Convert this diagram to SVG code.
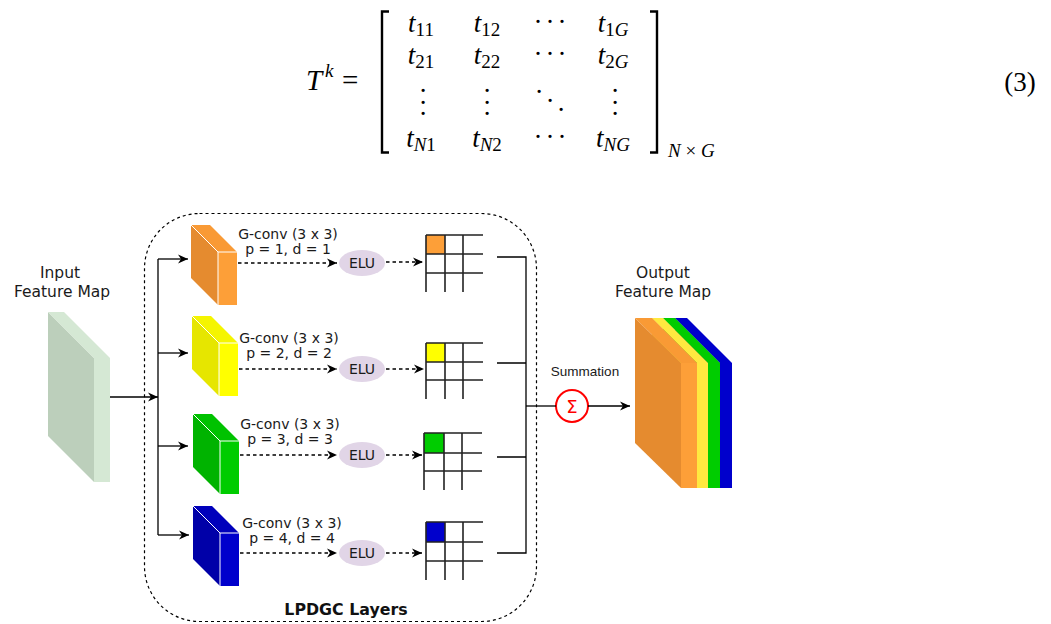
<svg xmlns="http://www.w3.org/2000/svg" width="1051" height="624" viewBox="0 0 1051 624">
<style>
.eq{font-family:'Liberation Serif',serif;font-size:27px;fill:#000}
.it{font-style:italic}
.sub{font-size:19px}
.lbl{font-family:'DejaVu Sans',sans-serif;font-size:14px;fill:#1a1a1a;text-anchor:middle}
.big{font-family:'DejaVu Sans',sans-serif;font-size:15.5px;fill:#1a1a1a;text-anchor:middle}
.ln{stroke:#000;stroke-width:1.3;fill:none}
.dash{stroke:#000;stroke-width:1.3;fill:none;stroke-dasharray:3.5 3}
.grid{stroke:#222;stroke-width:1.6;fill:none}
.ell{fill:#e1d5e7}
.edge{stroke:#fff;stroke-width:1;fill:none}
</style>
<defs>
<marker id="arr" markerUnits="userSpaceOnUse" markerWidth="12" markerHeight="10" refX="10" refY="5" orient="auto">
<path d="M0,0.5 L10,5 L0,9.5 L3,5 Z" fill="#000"/>
</marker>
</defs>

<g id="equation" class="eq">
<text x="306" y="90" class="it" font-size="29">T</text>
<text x="325" y="77" class="it sub">k</text>
<text x="342" y="90" font-size="29">=</text>
<path d="M389,11.5 H382 V152.5 H389" stroke="#000" stroke-width="2.4" fill="none"/>
<path d="M650,11.5 H657 V152.5 H650" stroke="#000" stroke-width="2.4" fill="none"/>
<text x="421" y="32" text-anchor="middle"><tspan class="it">t</tspan><tspan class="sub" dy="4">11</tspan></text>
<text x="487" y="32" text-anchor="middle"><tspan class="it">t</tspan><tspan class="sub" dy="4">12</tspan></text>
<text x="538 550 562" y="31" text-anchor="middle">···</text>
<text x="613" y="32" text-anchor="middle"><tspan class="it">t</tspan><tspan class="sub" dy="4">1<tspan class="it">G</tspan></tspan></text>
<text x="421" y="64" text-anchor="middle"><tspan class="it">t</tspan><tspan class="sub" dy="4">21</tspan></text>
<text x="487" y="64" text-anchor="middle"><tspan class="it">t</tspan><tspan class="sub" dy="4">22</tspan></text>
<text x="538 550 562" y="63" text-anchor="middle">···</text>
<text x="613" y="64" text-anchor="middle"><tspan class="it">t</tspan><tspan class="sub" dy="4">2<tspan class="it">G</tspan></tspan></text>
<text x="423 423 423" y="92 103.5 115" text-anchor="middle">...</text>
<text x="487 487 487" y="92 103.5 115" text-anchor="middle">...</text>
<text x="539 550 561" y="93 102 111" text-anchor="middle">...</text>
<text x="615 615 615" y="92 103.5 115" text-anchor="middle">...</text>
<text x="421" y="147" text-anchor="middle"><tspan class="it">t</tspan><tspan class="sub" dy="4"><tspan class="it">N</tspan>1</tspan></text>
<text x="487" y="147" text-anchor="middle"><tspan class="it">t</tspan><tspan class="sub" dy="4"><tspan class="it">N</tspan>2</tspan></text>
<text x="538 550 562" y="146" text-anchor="middle">···</text>
<text x="613" y="147" text-anchor="middle"><tspan class="it">t</tspan><tspan class="sub" dy="4"><tspan class="it">NG</tspan></tspan></text>
<text x="668" y="157" class="sub" font-size="20"><tspan class="it">N</tspan> × <tspan class="it">G</tspan></text>
<text x="1020" y="91" text-anchor="middle">(3)</text>
</g>

<g id="lpdgc-box">
<rect x="144.5" y="213.5" width="392" height="408" rx="55" ry="55" fill="none" stroke="#000" stroke-width="1.2" stroke-dasharray="3 3"/>
<text x="346" y="615" font-family="'DejaVu Sans',sans-serif" font-size="15.8" font-weight="bold" text-anchor="middle" fill="#111">LPDGC Layers</text>
</g>

<g id="input-feature-map">
<polygon points="48,312 94,358 94,482 48,436" fill="#bccfbb"/>
<polygon points="48,312 64,312 110,358 94,358" fill="#d5e8d4"/>
<rect x="94" y="358" width="16" height="124" fill="#d5e8d4"/>
<text class="big" x="60" y="278">Input</text>
<text class="big" x="62" y="297">Feature Map</text>
</g>

<g id="cube-orange">
<polygon points="191,225 218,252 218,305 191,278" fill="#e58b2f"/>
<polygon points="191,225 210,225 237,252 218,252" fill="#f99a35"/>
<rect x="218" y="252" width="19" height="53" fill="#fd9f38"/>
<path class="edge" d="M191,225 L218,252 L237,252 M218,252 V305"/>
<text class="lbl" x="288" y="239">G-conv (3 x 3)</text>
<text class="lbl" x="288" y="254">p = 1, d = 1</text>
</g>
<g id="cube-yellow">
<polygon points="192,316 219,343 219,396 192,369" fill="#e6e600"/>
<polygon points="192,316 211,316 238,343 219,343" fill="#f5f500"/>
<rect x="219" y="343" width="19" height="53" fill="#ffff00"/>
<path class="edge" d="M192,316 L219,343 L238,343 M219,343 V396"/>
<text class="lbl" x="289" y="343">G-conv (3 x 3)</text>
<text class="lbl" x="289" y="358">p = 2, d = 2</text>
</g>
<g id="cube-green">
<polygon points="193,414 220,441 220,494 193,467" fill="#00b300"/>
<polygon points="193,414 212,414 239,441 220,441" fill="#00c200"/>
<rect x="220" y="441" width="19" height="53" fill="#00cc00"/>
<path class="edge" d="M193,414 L220,441 L239,441 M220,441 V494"/>
<text class="lbl" x="290" y="429">G-conv (3 x 3)</text>
<text class="lbl" x="290" y="444">p = 3, d = 3</text>
</g>
<g id="cube-blue">
<polygon points="193,506 220,533 220,586 193,559" fill="#0000a8"/>
<polygon points="193,506 212,506 239,533 220,533" fill="#0000bb"/>
<rect x="220" y="533" width="19" height="53" fill="#0000cc"/>
<path class="edge" d="M193,506 L220,533 L239,533 M220,533 V586"/>
<text class="lbl" x="292" y="528">G-conv (3 x 3)</text>
<text class="lbl" x="292" y="543">p = 4, d = 4</text>
</g>

<g id="elu-1"><ellipse class="ell" cx="362" cy="263" rx="23" ry="13"/><text class="lbl" x="362" y="268" font-size="13.5">ELU</text></g>
<g id="elu-2"><ellipse class="ell" cx="362" cy="369" rx="23" ry="13"/><text class="lbl" x="362" y="374" font-size="13.5">ELU</text></g>
<g id="elu-3"><ellipse class="ell" cx="362" cy="455" rx="23" ry="13"/><text class="lbl" x="362" y="460" font-size="13.5">ELU</text></g>
<g id="elu-4"><ellipse class="ell" cx="362" cy="553" rx="23" ry="13"/><text class="lbl" x="362" y="558" font-size="13.5">ELU</text></g>

<g id="grid-1">
<rect x="426" y="235" width="19" height="19" fill="#fd9f38"/>
<path class="grid" d="M426,235 H483 M426,254 H483 M426,273 H483 M426,235 V292 M445,235 V292 M463,235 V292"/>
</g>
<g id="grid-2">
<rect x="426" y="343" width="19" height="19" fill="#ffff00"/>
<path class="grid" d="M426,343 H483 M426,362 H483 M426,380 H483 M426,343 V399 M445,343 V399 M463,343 V399"/>
</g>
<g id="grid-3">
<rect x="424" y="433" width="20" height="20" fill="#00cc00"/>
<path class="grid" d="M424,433 H482 M424,453 H482 M424,471 H482 M424,433 V490 M444,433 V490 M462,433 V490"/>
</g>
<g id="grid-4">
<rect x="426" y="522" width="19" height="20" fill="#0000cc"/>
<path class="grid" d="M426,522 H483 M426,542 H483 M426,561 H483 M426,522 V580 M445,522 V580 M463,522 V580"/>
</g>

<g id="summation">
<circle cx="572" cy="406" r="16" fill="#fff" stroke="#ff0000" stroke-width="2"/>
<text x="572" y="413" font-family="'DejaVu Sans',sans-serif" font-size="18" fill="#ff0000" text-anchor="middle">Σ</text>
<text x="585" y="376" font-family="'Liberation Sans',sans-serif" font-size="13.5" fill="#1a1a1a" text-anchor="middle">Summation</text>
</g>

<g id="output-feature-map">
<polygon points="675,318 720,363 720,488 675,443" fill="#0000bb"/>
<polygon points="675,318 687,318 732,363 720,363" fill="#0000cc"/>
<rect x="720" y="363" width="12" height="125" fill="#0000cc"/>
<polygon points="663,318 708,363 708,488 663,443" fill="#00b300"/>
<polygon points="663,318 675,318 720,363 708,363" fill="#00cc00"/>
<rect x="708" y="363" width="12" height="125" fill="#00cc00"/>
<polygon points="652,318 697,363 697,488 652,443" fill="#e6d030"/>
<polygon points="652,318 663,318 708,363 697,363" fill="#ffe940"/>
<rect x="697" y="363" width="11" height="125" fill="#ffe940"/>
<polygon points="635,318 681,363 681,488 635,443" fill="#e58b2f"/>
<polygon points="635,318 652,318 697,363 681,363" fill="#f99a35"/>
<rect x="681" y="363" width="16" height="125" fill="#fd9f38"/>
<text class="big" x="663" y="278">Output</text>
<text class="big" x="663" y="297">Feature Map</text>
</g>

<g id="connectors">
<line class="ln" x1="110" y1="397" x2="158" y2="397" marker-end="url(#arr)"/>
<line class="ln" x1="158" y1="259" x2="158" y2="535"/>
<line class="ln" x1="158" y1="259" x2="188" y2="259" marker-end="url(#arr)"/>
<line class="ln" x1="158" y1="353" x2="188" y2="353" marker-end="url(#arr)"/>
<line class="ln" x1="158" y1="446" x2="188" y2="446" marker-end="url(#arr)"/>
<line class="ln" x1="158" y1="535" x2="189" y2="535" marker-end="url(#arr)"/>
<line class="dash" x1="238" y1="263" x2="337" y2="263" marker-end="url(#arr)"/>
<line class="dash" x1="239" y1="369" x2="337" y2="369" marker-end="url(#arr)"/>
<line class="dash" x1="240" y1="455" x2="337" y2="455" marker-end="url(#arr)"/>
<line class="dash" x1="240" y1="553" x2="337" y2="553" marker-end="url(#arr)"/>
<line class="dash" x1="386" y1="262" x2="423" y2="262" marker-end="url(#arr)"/>
<line class="dash" x1="386" y1="369" x2="424" y2="369" marker-end="url(#arr)"/>
<line class="dash" x1="386" y1="455" x2="422" y2="455" marker-end="url(#arr)"/>
<line class="dash" x1="386" y1="553" x2="422" y2="553" marker-end="url(#arr)"/>
<path class="ln" d="M497,257 H526 V553 H497 M497,363 H526 M497,457 H526"/>
<line class="ln" x1="526" y1="406" x2="556" y2="406"/>
<line class="ln" x1="588" y1="406" x2="630" y2="406" marker-end="url(#arr)"/>
</g>
</svg>
